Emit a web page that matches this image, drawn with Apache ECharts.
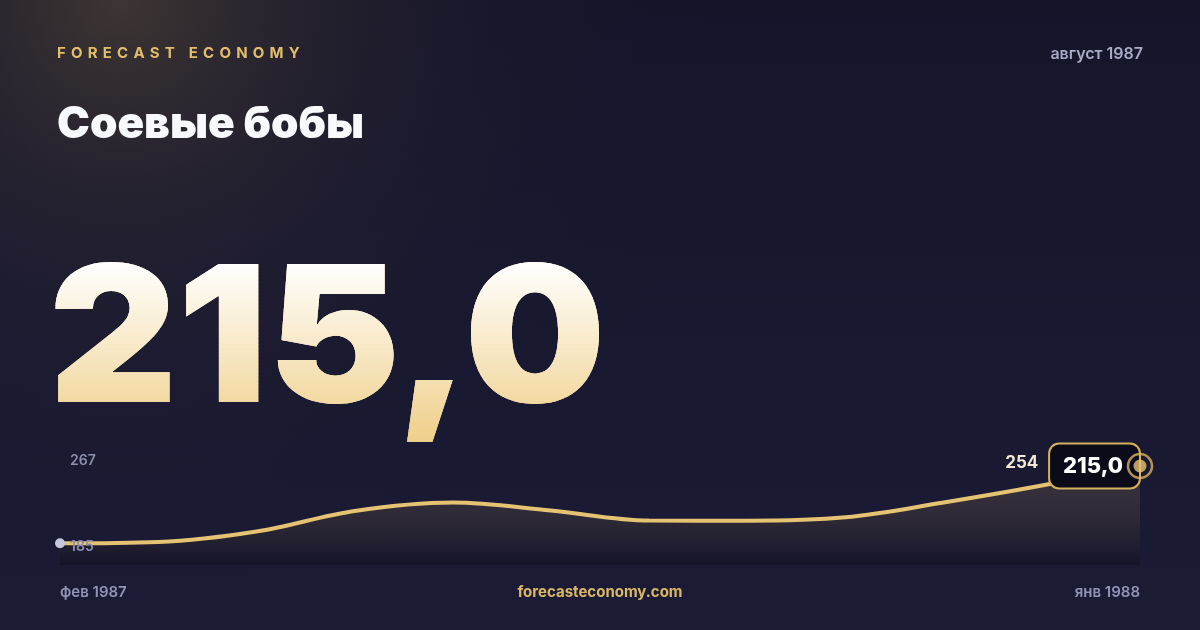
<!DOCTYPE html>
<html><head><meta charset="utf-8">
<script src="https://cdn.jsdelivr.net/npm/echarts@6/dist/echarts.min.js"></script>
<style>html,body{margin:0;padding:0;background:#16162c}#c{width:1200px;height:630px}</style>
</head><body><div id="c"></div>
<script>
const months = ['фев 1987','мар 1987','апр 1987','май 1987','июн 1987','июл 1987','авг 1987','сен 1987','окт 1987','ноя 1987','дек 1987','янв 1988'];
const prices = [185, 186.4, 197.5, 219.3, 228.3, 219.8, 209.2, 209.0, 212.6, 228.3, 246.3, 267];
const rangeLabels = ['267', '185'];
const peakLabel = '254';
const headline = '215,0';
const brand = 'FORECAST ECONOMY';
const titleText = 'Соевые бобы';
const dateText = 'август 1987';
const siteText = 'forecasteconomy.com';

const GOLD = '#e6c372';
const FONT = 'Inter, "Noto Sans", sans-serif';
const last = prices.length - 1;

function spaced(text, x, y, size, weight, spacing, color) {
  const cv = document.createElement('canvas').getContext('2d');
  cv.font = weight + ' ' + size + 'px ' + FONT;
  const out = [];
  let cx = x;
  for (const ch of text) {
    out.push({type:'text', x: cx, y: y, style:{text: ch, fill: color, font: weight + ' ' + size + 'px ' + FONT, verticalAlign:'middle'}});
    cx += cv.measureText(ch).width + spacing;
  }
  return out;
}

const chart = echarts.init(document.getElementById('c'), null, {renderer:'canvas'});

const seriesData = prices.map((v, i) => {
  if (i === 0) return {value: v, symbol:'circle', symbolSize: 10, itemStyle:{color:'#c4c7dd'}};
  if (i === last) return {value: v, symbol:'circle', symbolSize: 2, itemStyle:{color:'rgba(0,0,0,0)'},
    label:{show:true, position:'left', distance:0, offset:[0,0], formatter: headline,
      color:'#ffffff', fontFamily: FONT, fontWeight: 800, fontSize: 22, lineHeight: 22,
      backgroundColor:'#0b0b19', borderColor:'#d7b05e', borderWidth:2, borderRadius:9,
      padding:[11,16,10,13]}};
  if (i === last - 1) return {value: v, symbol:'circle', symbolSize: 1, itemStyle:{color:'rgba(0,0,0,0)'},
    label:{show:true, position:'top', distance:0, offset:[-20,-14], formatter: peakLabel,
      color:'#f3e9d2', fontFamily: FONT, fontWeight: 700, fontSize: 17}};
  return {value: v, symbol:'none'};
});

const graphics = [
  {type:'rect', z:-10, silent:true, shape:{x:0,y:0,width:1200,height:630},
    style:{fill: new echarts.graphic.LinearGradient(0,0,0,1,[{offset:0,color:'#15152a'},{offset:1,color:'#1b1b36'}])}},
  {type:'rect', z:-9, silent:true, shape:{x:0,y:0,width:1200,height:630},
    style:{fill: new echarts.graphic.RadialGradient(0.1,0,1.0,[{offset:0,color:'rgba(95,80,58,0.55)'},{offset:0.35,color:'rgba(70,60,52,0.25)'},{offset:0.8,color:'rgba(30,28,40,0.05)'},{offset:1,color:'rgba(20,20,40,0)'}])}},
  ...spaced(brand, 57, 53, 15, 700, 5.2, '#e2bd6c'),
  {type:'text', x:1143, y:54, style:{text: dateText, fill:'#a8aac6', font:'600 16px ' + FONT, align:'right', verticalAlign:'middle'}},
  {type:'text', x:57, y:124.5, style:{text: titleText, fill:'#f8f9fd', font:'900 44px ' + FONT, verticalAlign:'middle'}},
  {type:'text', x:70, y:461, style:{text: rangeLabels[0], fill:'#8c8eae', font:'600 14px ' + FONT, verticalAlign:'middle'}},
  {type:'text', x:70, y:547, z:10, style:{text: rangeLabels[1], fill:'#8c8eae', font:'600 14px ' + FONT, verticalAlign:'middle'}},
  {type:'text', x:600, y:592, style:{text: siteText, fill:'#dcb865', font:'700 15px ' + FONT, align:'center', verticalAlign:'middle'}}
];

chart.setOption({
  animation:false,
  backgroundColor:'transparent',
  graphic: graphics,
  grid:{left:60, right:60, top:466, bottom:65},
  xAxis:{type:'category', data: months, boundaryGap:false,
    axisLine:{show:false}, axisTick:{show:false}, splitLine:{show:false},
    axisLabel:{interval:(i)=> i===0 || i===last, color:'#9294b6', fontFamily:FONT, fontWeight:600, fontSize:15, margin:20,
      alignMinLabel:'left', alignMaxLabel:'right'}},
  yAxis:{type:'value', min:162, max:267, show:false},
  series:[
    {type:'line', data: seriesData, smooth:0.35, showAllSymbol:true, z:3,
      lineStyle:{color:GOLD, width:4},
      areaStyle:{color: new echarts.graphic.LinearGradient(0,0,0,1,[{offset:0,color:'rgba(214,178,110,0.22)'},{offset:1,color:'rgba(6,6,14,0.45)'}])}},
    {type:'scatter', z:10, silent:true, data:[
      {value:[last, prices[last]], symbol:'circle', symbolSize:24, itemStyle:{color:'rgba(0,0,0,0)', borderColor:'#dbb45f', borderWidth:2.5}},
      {value:[last, prices[last]], symbol:'circle', symbolSize:13, itemStyle:{color:'#e6c372'}}
    ]}
  ]
});

// Headline number with vertical gradient (drawn as clipped colour bands)
(function () {
  const zr = chart.getZr();
  const bigFont = '900 195px ' + FONT;
  const mc = document.createElement('canvas').getContext('2d');
  mc.font = bigFont; mc.textBaseline = 'middle';
  const mDig = mc.measureText('215');
  const mAll = mc.measureText(headline);
  const asc = mDig.actualBoundingBoxAscent, desc = mDig.actualBoundingBoxDescent;
  const capH = asc + desc;
  const commaExt = Math.max(0, mAll.actualBoundingBoxDescent - desc);
  const width = mAll.actualBoundingBoxRight + mAll.actualBoundingBoxLeft;
  const LEFT = 55, BASE = 404;
  const sy = 142 / capH, sx = 544 / width;
  const ty = BASE - desc;
  const tx = LEFT + mAll.actualBoundingBoxLeft;
  const g = new echarts.graphic.Group({scaleX: sx, scaleY: sy, originX: LEFT, originY: BASE});
  const top = BASE - capH, bottom = BASE + commaExt;
  const c0 = [255,255,255], c1 = [239,207,136];
  g.add(new echarts.graphic.Text({z: 49, silent:true, style:{text: headline, x: tx, y: ty, font: bigFont, fill:'#f4e2b4',
    verticalAlign:'middle', shadowColor:'rgba(0,0,0,0.6)', shadowBlur:30, shadowOffsetY:12}}));
  const N = 48;
  const span = bottom - top + 6;
  const h = span / N;
  for (let i = 0; i < N; i++) {
    const y0 = top - 3 + i * h;
    const t = Math.min(1, Math.max(0, (y0 + h / 2 - top) / (bottom - top)));
    const col = 'rgb(' + c0.map((c, k) => Math.round(c + (c1[k] - c) * t)).join(',') + ')';
    const el = new echarts.graphic.Text({z: 50, silent:true, style:{text: headline, x: tx, y: ty, font: bigFont, fill: col, verticalAlign:'middle'}});
    el.setClipPath(new echarts.graphic.Rect({shape:{x: 0, y: i === 0 ? y0 - 40 : y0, width: 1400, height: (i === 0 ? h + 40 : (i === N - 1 ? h + 40 : h)) + 0.6}}));
    g.add(el);
  }
  zr.add(g);
})();
</script></body></html>
